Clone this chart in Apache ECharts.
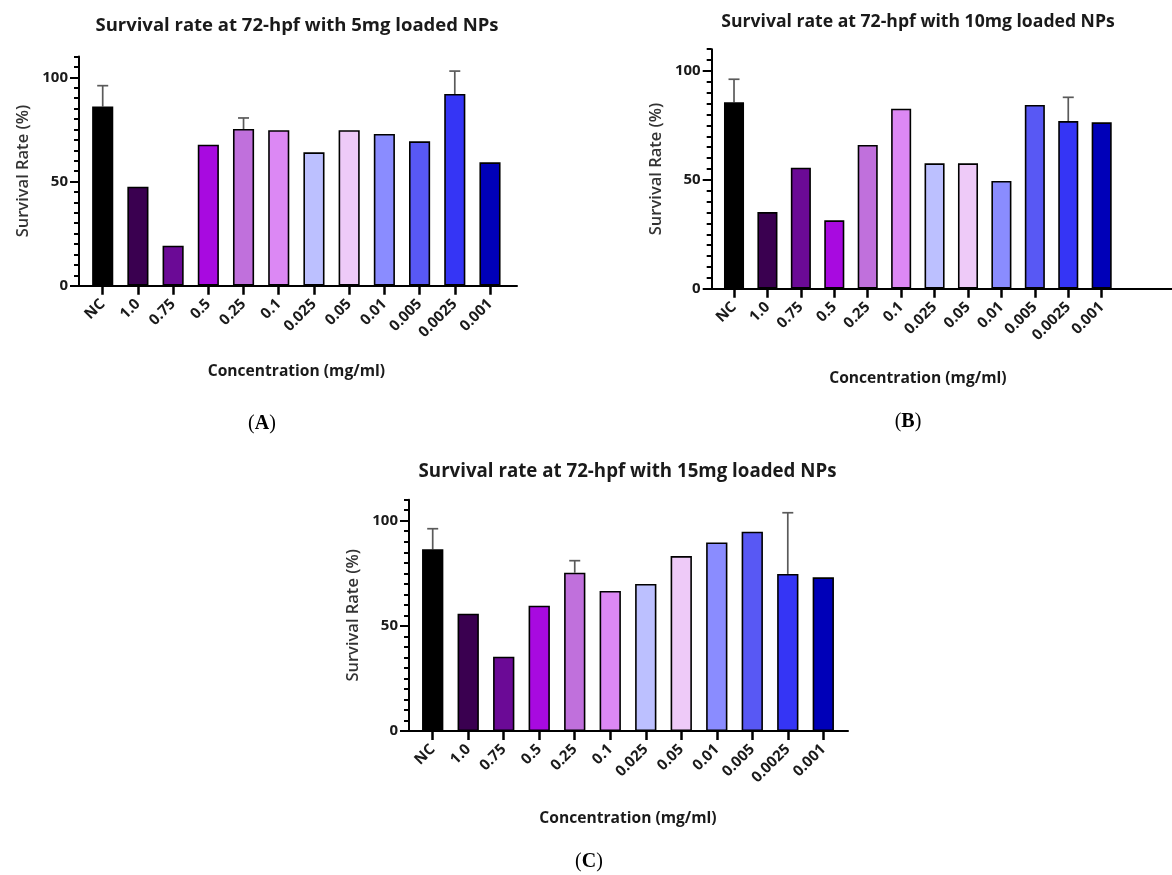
<!DOCTYPE html>
<html><head><meta charset="utf-8">
<script src="https://cdn.jsdelivr.net/npm/echarts@6/dist/echarts.min.js"></script>
<style>html,body{margin:0;padding:0;background:#fff}#c{width:1172px;height:875px}</style>
</head><body><div id="c"></div>
<script>
// ---------- data ----------
const categories = ['NC','1.0','0.75','0.5','0.25','0.1','0.025','0.05','0.01','0.005','0.0025','0.001'];
const barColors = ['#000000','#3a0050','#6b0a96','#a80ae0','#c070dc','#dc88f4','#bcc0ff','#eecaf8','#8a8cff','#5858f4','#3535f5','#0000b8'];
const chartTitles = ['Survival rate at 72-hpf with 5mg loaded NPs','Survival rate at 72-hpf with 10mg loaded NPs','Survival rate at 72-hpf with 15mg loaded NPs'];
const panelLetters = ['A','B','C'];
const yAxisName = 'Survival Rate (%)';
const xAxisName = 'Concentration (mg/ml)';
const yMajorTicks = [0, 50, 100];
const yMin = 0, yMax = 110, yMinorStep = 5;

const valuesA = [86, 47.5, 19.2, 67.7, 75.2, 74.6, 64, 74.6, 72.8, 69.3, 92, 59.2];
const errorTopA = [96, null, null, null, 80.5, null, null, null, null, null, 103, null];
const valuesB = [85.6, 35.2, 55.6, 31.4, 66, 82.7, 57.6, 57.6, 49.5, 84.4, 77, 76.4];
const errorTopB = [96.2, null, null, null, null, null, null, null, null, null, 87.9, null];
const valuesC = [86.4, 55.8, 35.3, 59.6, 75.3, 66.6, 69.9, 83.2, 89.7, 94.8, 74.7, 73.1];
const errorTopC = [96.2, null, null, null, 81, null, null, null, null, null, 103.8, null];

const panelValues = [valuesA, valuesB, valuesC];
const panelErrors = [errorTopA, errorTopB, errorTopC];

// ---------- layout (px) ----------
const layouts = [
  {frameLeft: 79, frameWidth: 438, mainLeft: 85.1, mainWidth: 422.5, top: 56.5, height: 229.2,
   titleX: 292, titleY: 11, titleSize: 18.5, labelX: 262, labelY: 424, xNameGap: 78},
  {frameLeft: 711.7, frameWidth: 460.3, mainLeft: 717.3, mainWidth: 401.1, top: 49.2, height: 239.5,
   titleX: 913, titleY: 8, titleSize: 17.6, labelX: 908, labelY: 422, xNameGap: 82},
  {frameLeft: 409, frameWidth: 439, mainLeft: 414.95, mainWidth: 426.1, top: 499.7, height: 231.3,
   titleX: 622.5, titleY: 457, titleSize: 18.7, labelX: 589, labelY: 862, xNameGap: 80}
];

const FONT = '"Open Sans", "Noto Sans", sans-serif';
const grid = [], xAxis = [], yAxis = [], series = [], title = [], graphic = [];

layouts.forEach((L, k) => {
  const offset = L.mainLeft - L.frameLeft;
  grid.push({left: L.mainLeft, top: L.top, width: L.mainWidth, height: L.height, containLabel: false});
  grid.push({left: L.frameLeft, top: L.top, width: L.frameWidth, height: L.height, containLabel: false});

  xAxis.push({
    type: 'category', gridIndex: 2 * k, data: categories,
    axisLine: {show: false},
    axisTick: {show: true, alignWithLabel: true, length: 9, lineStyle: {color: '#000', width: 2.5}},
    axisLabel: {rotate: 45, margin: 16, color: '#1a1a1a', fontFamily: FONT, fontWeight: 'bold', fontSize: 15, interval: 0},
    name: xAxisName, nameLocation: 'middle', nameGap: L.xNameGap,
    nameTextStyle: {color: '#1a1a1a', fontFamily: FONT, fontWeight: 'bold', fontSize: 15.6},
    splitLine: {show: false}
  });
  xAxis.push({
    type: 'value', gridIndex: 2 * k + 1, min: 0, max: 1,
    axisLine: {show: true, onZero: false, lineStyle: {color: '#000', width: 2}},
    axisTick: {show: false}, axisLabel: {show: false}, splitLine: {show: false}
  });

  // y axis with minor ticks every 5 (main grid, carries the axis line)
  yAxis.push({
    type: 'value', gridIndex: 2 * k, min: yMin, max: yMax, interval: yMinorStep, offset: offset,
    axisLine: {show: true, lineStyle: {color: '#000', width: 2}},
    axisTick: {show: true, length: 5, lineStyle: {color: '#000', width: 2}},
    axisLabel: {show: false}, splitLine: {show: false}
  });
  // major ticks, labels and name (frame grid, same vertical scale)
  yAxis.push({
    type: 'value', gridIndex: 2 * k + 1, min: yMin, max: yMax,
    axisLine: {show: false},
    axisTick: {show: true, length: 9, customValues: yMajorTicks, lineStyle: {color: '#000', width: 2}},
    axisLabel: {show: true, customValues: yMajorTicks, margin: 11, color: '#1a1a1a', fontFamily: FONT, fontWeight: 'bold', fontSize: 15},
    splitLine: {show: false},
    name: yAxisName, nameLocation: 'middle', nameGap: 47, nameRotate: 90,
    nameTextStyle: {color: '#333', fontFamily: FONT, fontWeight: 600, fontSize: 16.5}
  });

  const vals = panelValues[k];
  series.push({
    type: 'bar', xAxisIndex: 2 * k, yAxisIndex: 2 * k,
    barCategoryGap: '40%',
    data: vals.map((v, i) => ({value: v, itemStyle: {color: barColors[i], borderColor: '#000', borderWidth: 1.6}})),
    silent: true, animation: false
  });
  const errs = panelErrors[k];
  const errData = [];
  errs.forEach((e, i) => { if (e != null) errData.push([i, e, vals[i]]); });
  series.push({
    type: 'custom', xAxisIndex: 2 * k, yAxisIndex: 2 * k, z: 1,
    encode: {x: 0, y: 1},
    data: errData, silent: true, animation: false,
    renderItem: (params, api) => {
      const i = api.value(0), top = api.value(1), base = api.value(2);
      const p1 = api.coord([i, base]);
      const p2 = api.coord([i, top]);
      const half = 5.5;
      const st = {stroke: '#5a5a5a', lineWidth: 1.7};
      return {type: 'group', children: [
        {type: 'line', shape: {x1: p1[0], y1: p1[1], x2: p2[0], y2: p2[1]}, style: st},
        {type: 'line', shape: {x1: p2[0] - half, y1: p2[1], x2: p2[0] + half, y2: p2[1]}, style: st}
      ]};
    }
  });

  title.push({
    text: chartTitles[k], left: L.titleX, top: L.titleY, textAlign: 'center',
    textStyle: {color: '#1a1a1a', fontFamily: FONT, fontWeight: 'bold', fontSize: L.titleSize}
  });

  graphic.push({
    type: 'text', x: L.labelX, y: L.labelY,
    style: {
      text: '{p|(}{b|' + panelLetters[k] + '}{p|)}',
      align: 'center', verticalAlign: 'middle',
      rich: {
        p: {fontFamily: '"Liberation Serif", "DejaVu Serif", serif', fontSize: 20, fill: '#000'},
        b: {fontFamily: '"Liberation Serif", "DejaVu Serif", serif', fontSize: 20, fontWeight: 'bold', fill: '#000'}
      }
    }
  });
});

const chart = echarts.init(document.getElementById('c'), null, {renderer: 'canvas'});
chart.setOption({backgroundColor: '#fff', animation: false, title, grid, xAxis, yAxis, series, graphic});
</script>
</body></html>
